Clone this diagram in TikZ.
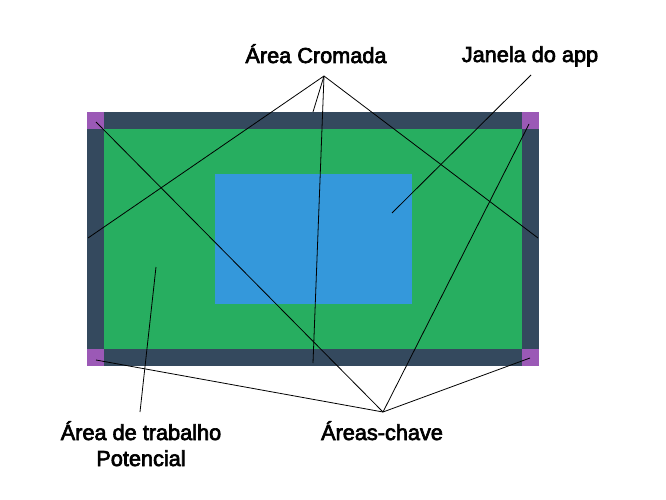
\documentclass[tikz,border=0pt]{standalone}
\usepackage{fontspec}
\setmainfont{Liberation Sans}
\newfontfamily\lblfont{Liberation Sans}[FakeBold=3]
\definecolor{chrome}{HTML}{34495E}
\definecolor{work}{HTML}{27AE60}
\definecolor{appwin}{HTML}{3498DB}
\definecolor{corner}{HTML}{9B59B6}
\begin{document}
\begin{tikzpicture}[x=1pt,y=-1pt]
    \tikzstyle{lbl} = [inner sep=0pt, anchor=base, align=center,
    font=\lblfont\fontsize{21.7}{26}\selectfont];
    \tikzstyle{ln} = [black,line width=0.8pt,-];
    \tikzstyle{sq} = [fill=corner];

    \useasboundingbox[fill=white] (0,0) rectangle (666,500);

    % screen
    \fill[chrome] (87,112) rectangle (539,366);
    \fill[work] (104,129) rectangle (522,349);
    \fill[sq] (87,112) rectangle (104,129);
    \fill[sq] (522,112) rectangle (539,129);
    \fill[sq] (87,349) rectangle (104,366);
    \fill[sq] (522,349) rectangle (539,366);
    \fill[appwin] (215,174) rectangle (412,304);

    \node[lbl] (cromada) at (316,63){Área Cromada};
    \node[lbl] (janela) at (530,62){Janela do app};
    \node[lbl] (trabalho) at (141,466){Área de trabalho\\Potencial};
    \node[lbl] (chave) at (382,440){Áreas-chave};

    \coordinate (c0) at (324,76);
    \coordinate (c1) at (88,238);
    \coordinate (c2) at (313,112);
    \coordinate (c3) at (313,363);
    \coordinate (c4) at (538,238);

    \coordinate (j0) at (531,75);
    \coordinate (j1) at (392,213);

    \coordinate (t0) at (140,412);
    \coordinate (t1) at (156,267);

    \coordinate (k0) at (383,412);
    \coordinate (k1) at (96,122);
    \coordinate (k2) at (529,124);
    \coordinate (k3) at (96,360);
    \coordinate (k4) at (530,358);

    \path[ln] (c0) edge (c1)
                   edge (c2)
                   edge (c3)
                   edge (c4)
              (j0) edge (j1)
              (t0) edge (t1)
              (k0) edge (k1)
                   edge (k2)
                   edge (k3)
                   edge (k4);

\end{tikzpicture}
\end{document}
